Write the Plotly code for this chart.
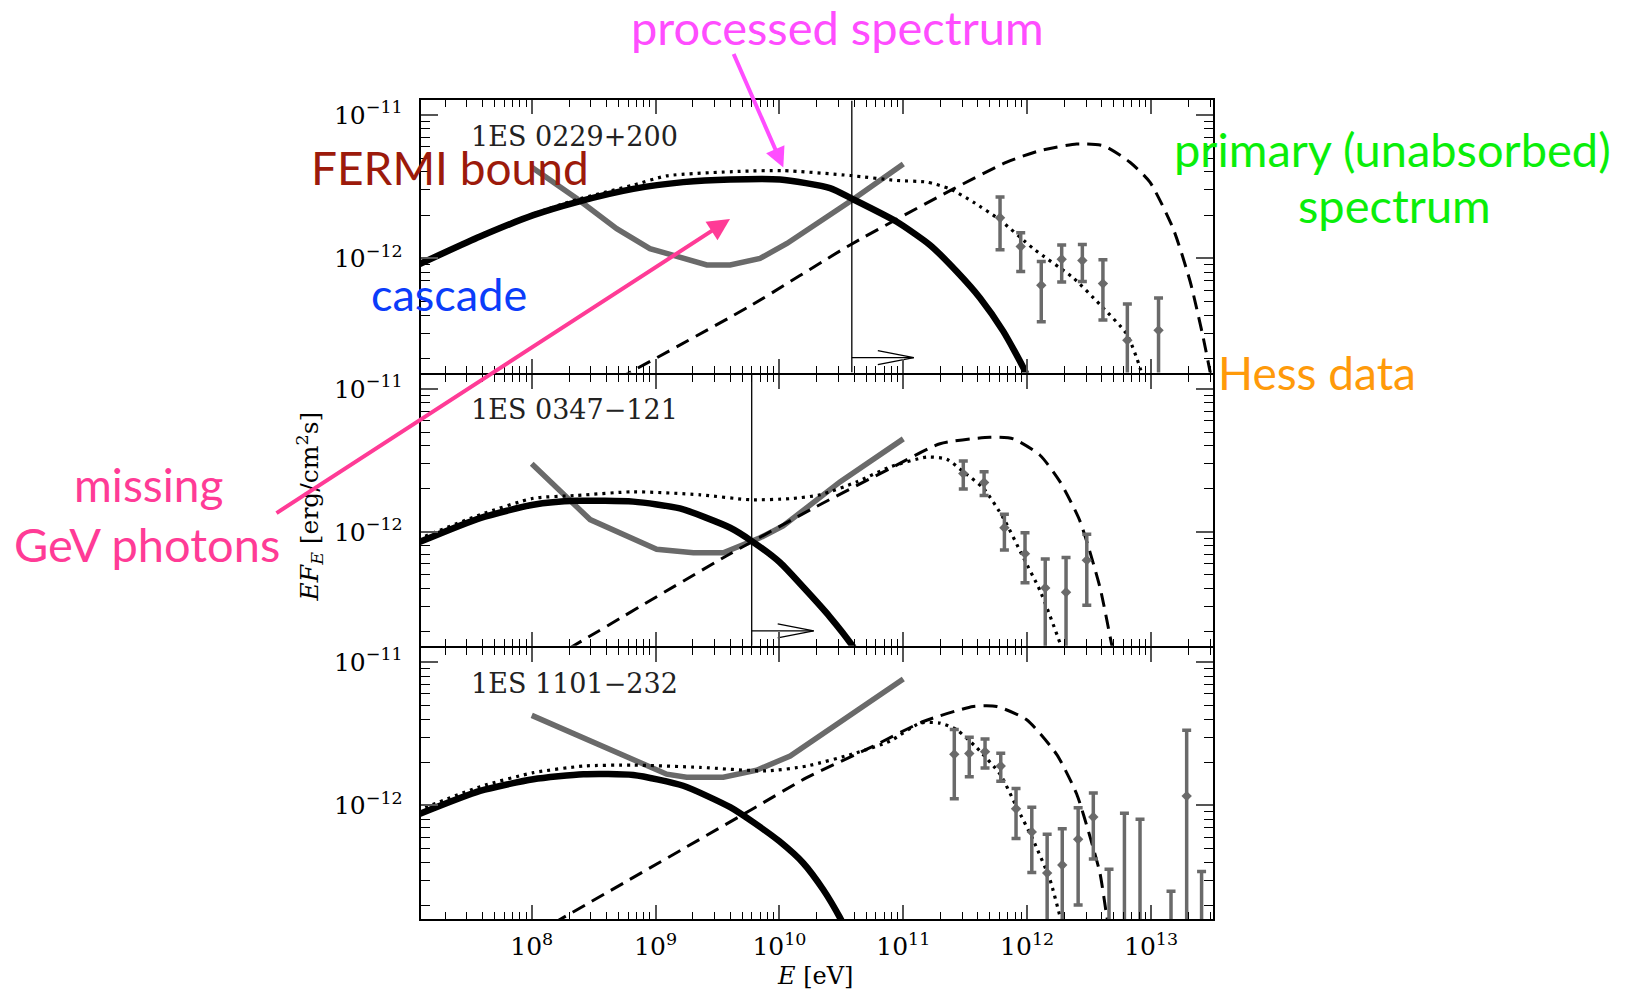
import math
import plotly.graph_objects as go

# ---------------------------------------------------------------------------
# Spectral energy distributions, E*F_E [erg cm^-2 s^-1] versus E [eV]
# ---------------------------------------------------------------------------
source_names = ["1ES 0229+200", "1ES 0347\u2212121", "1ES 1101\u2212232"]

# --- 1ES 0229+200 ---------------------------------------------------------
cascade_E_0229 = [1.2e7, 3.83e7, 1.03e8, 2.31e8, 6.6e8, 1.67e9, 4.0e9, 1.01e10, 2.56e10,
                  3.84e10, 8.85e10, 1.64e11, 2.7e11, 4.16e11, 6.4e11, 9.6e11, 1.1e12]
cascade_F_0229 = [9.0e-13, 1.42e-12, 2.0e-12, 2.47e-12, 3.05e-12, 3.4e-12, 3.55e-12, 3.55e-12, 3.09e-12,
                  2.61e-12, 1.8e-12, 1.24e-12, 8.1e-13, 5.3e-13, 3.11e-13, 1.64e-13, 1.2e-13]
processed_E_0229 = [1.2e7, 3.83e7, 1.03e8, 2.31e8, 6.6e8, 1.23e9, 4.81e9, 1.07e10, 3.72e10, 8.85e10,
                    1.55e11, 2.38e11, 3.67e11, 6.04e11, 1.12e12, 2.36e12, 3.87e12, 6.37e12, 8.15e12, 9.0e12]
processed_F_0229 = [9.1e-13, 1.45e-12, 2.04e-12, 2.57e-12, 3.24e-12, 3.76e-12, 4.04e-12, 4.09e-12, 3.78e-12, 3.49e-12,
                    3.40e-12, 3.05e-12, 2.47e-12, 1.85e-12, 1.17e-12, 7.3e-13, 4.76e-13, 2.96e-13, 1.73e-13, 1.2e-13]
primary_E_0229 = [5.0e8, 5.78e9, 3.72e10, 2.54e11, 6.84e11, 1.27e12, 2.51e12, 4.12e12, 6.76e12,
                  9.8e12, 1.51e13, 2.07e13, 2.64e13, 2.99e13, 3.2e13]
primary_F_0229 = [1.45e-13, 4.65e-13, 1.24e-12, 3.05e-12, 4.68e-12, 5.64e-12, 6.27e-12, 6.1e-12, 4.68e-12,
                  3.4e-12, 1.61e-12, 6.9e-13, 2.8e-13, 1.64e-13, 1.2e-13]
fermi_E_0229 = [1.0e8, 2.31e8, 4.85e8, 9.0e8, 2.59e9, 4.0e9, 6.97e9, 1.15e10, 3.84e10, 1.0e11]
fermi_F_0229 = [4.32e-12, 2.61e-12, 1.61e-12, 1.17e-12, 9.0e-13, 9.0e-13, 1.0e-12, 1.27e-12, 2.54e-12, 4.55e-12]
threshold_0229 = 3.84e10
hess_E_0229 = [6.04e11, 8.87e11, 1.30e12, 1.90e12, 2.79e12, 4.09e12, 6.44e12, 1.15e13]
hess_F_0229 = [1.92e-12, 1.21e-12, 6.49e-13, 9.86e-13, 9.66e-13, 6.67e-13, 2.69e-13, 3.15e-13]
hess_hi_0229 = [2.68e-12, 1.51e-12, 9.5e-13, 1.24e-12, 1.25e-12, 9.77e-13, 4.81e-13, 5.30e-13]
hess_lo_0229 = [1.15e-12, 8.1e-13, 3.61e-13, 6.84e-13, 6.9e-13, 3.72e-13, 0.0, 0.0]
hess_ul_E_0229 = []
hess_ul_0229 = []

# --- 1ES 0347-121 ---------------------------------------------------------
cascade_E_0347 = [1.2e7, 3.83e7, 1.03e8, 2.31e8, 6.6e8, 1.57e9, 4.0e9, 5.97e9, 1.01e10, 1.56e10,
                  2.56e10, 3.84e10, 4.5e10]
cascade_F_0347 = [8.4e-13, 1.25e-12, 1.55e-12, 1.65e-12, 1.63e-12, 1.46e-12, 1.07e-12, 8.63e-13, 6.11e-13, 4.1e-13,
                  2.54e-13, 1.62e-13, 1.3e-13]
processed_E_0347 = [1.2e7, 3.83e7, 1.03e8, 2.31e8, 6.6e8, 2.29e9, 5.78e9, 1.22e10, 2.13e10, 4.21e10,
                    7.82e10, 1.55e11, 2.24e11, 3.05e11, 4.43e11, 6.43e11, 9.31e11, 1.27e12, 1.84e12, 2.0e12]
processed_F_0347 = [8.9e-13, 1.32e-12, 1.72e-12, 1.80e-12, 1.91e-12, 1.82e-12, 1.68e-12, 1.71e-12, 1.82e-12, 2.24e-12,
                    2.85e-12, 3.34e-12, 3.23e-12, 2.64e-12, 2.02e-12, 1.25e-12, 6.62e-13, 3.89e-13, 1.67e-13, 1.3e-13]
primary_E_0347 = [2.0e8, 3.75e9, 2.0e10, 7.82e10, 1.98e11, 5.01e11, 7.73e11, 1.27e12, 1.84e12,
                  2.67e12, 3.87e12, 4.82e12, 5.2e12]
primary_F_0347 = [1.53e-13, 6.81e-13, 1.51e-12, 2.78e-12, 4.14e-12, 4.6e-12, 4.48e-12, 3.44e-12, 2.25e-12,
                  1.19e-12, 4.1e-13, 1.62e-13, 1.2e-13]
fermi_E_0347 = [1.0e8, 2.96e8, 1.02e9, 2.02e9, 3.52e9, 6.97e9, 1.07e10, 3.08e10, 1.0e11]
fermi_F_0347 = [3.0e-12, 1.22e-12, 7.57e-13, 7.16e-13, 7.16e-13, 9.1e-13, 1.10e-12, 2.24e-12, 4.48e-12]
threshold_0347 = 5.97e9
hess_E_0347 = [3.05e11, 4.49e11, 6.55e11, 9.61e11, 1.40e12, 2.06e12, 3.03e12]
hess_F_0347 = [2.56e-12, 2.22e-12, 1.07e-12, 7.05e-13, 4.06e-13, 3.79e-13, 6.35e-13]
hess_hi_0347 = [3.13e-12, 2.64e-12, 1.33e-12, 9.86e-13, 6.46e-13, 6.62e-13, 9.62e-13]
hess_lo_0347 = [2.0e-12, 1.80e-12, 7.48e-13, 4.41e-13, 0.0, 0.0, 3.07e-13]
hess_ul_E_0347 = []
hess_ul_0347 = []

# --- 1ES 1101-232 ---------------------------------------------------------
cascade_E_1101 = [1.2e7, 3.83e7, 1.03e8, 2.61e8, 6.6e8, 1.67e9, 4.0e9, 6.3e9, 1.0e10, 1.56e10,
                  2.26e10, 3.08e10, 3.6e10]
cascade_F_1101 = [8.6e-13, 1.26e-12, 1.52e-12, 1.65e-12, 1.63e-12, 1.37e-12, 9.7e-13, 7.5e-13, 5.6e-13, 3.94e-13,
                  2.57e-13, 1.64e-13, 1.25e-13]
processed_E_1101 = [1.2e7, 3.83e7, 1.03e8, 2.61e8, 6.6e8, 2.29e9, 7.89e9, 1.66e10, 4.21e10, 7.82e10,
                    1.36e11, 1.98e11, 2.70e11, 3.92e11, 6.04e11, 8.24e11, 1.12e12, 1.53e12, 1.84e12, 2.0e12]
processed_F_1101 = [9.2e-13, 1.35e-12, 1.69e-12, 1.88e-12, 1.91e-12, 1.84e-12, 1.74e-12, 1.88e-12, 2.33e-12, 2.81e-12,
                    3.75e-12, 3.75e-12, 3.37e-12, 2.52e-12, 1.65e-12, 9.7e-13, 5.70e-13, 3.01e-13, 1.68e-13, 1.3e-13]
primary_E_1101 = [1.5e8, 5.78e9, 1.66e10, 5.73e10, 1.45e11, 3.67e11, 5.68e11, 9.91e11, 1.73e12,
                  2.51e12, 3.22e12, 3.87e12, 4.39e12, 4.7e12]
primary_F_1101 = [1.5e-13, 9.2e-13, 1.56e-12, 2.59e-12, 3.85e-12, 4.9e-12, 4.9e-12, 3.96e-12, 2.27e-12,
                  1.20e-12, 6.01e-13, 3.36e-13, 1.68e-13, 1.2e-13]
fermi_E_1101 = [1.0e8, 1.23e9, 1.78e9, 3.52e9, 6.56e9, 1.22e10, 1.0e11]
fermi_F_1101 = [4.25e-12, 1.65e-12, 1.57e-12, 1.57e-12, 1.76e-12, 2.21e-12, 7.62e-12]
threshold_1101 = None
hess_E_1101 = [2.58e11, 3.41e11, 4.57e11, 6.12e11, 8.13e11, 1.09e12, 1.45e12, 1.92e12, 2.58e12, 3.42e12, 1.94e13]
hess_F_1101 = [2.27e-12, 2.30e-12, 2.37e-12, 1.88e-12, 9.46e-13, 6.52e-13, 3.36e-13, 3.83e-13, 5.79e-13, 8.28e-13, 1.16e-12]
hess_hi_1101 = [3.38e-12, 2.99e-12, 2.91e-12, 2.31e-12, 1.31e-12, 9.70e-13, 6.28e-13, 6.87e-13, 9.62e-13, 1.22e-12, 3.35e-12]
hess_lo_1101 = [1.11e-12, 1.58e-12, 1.82e-12, 1.47e-12, 5.86e-13, 3.39e-13, 0.0, 0.0, 2.01e-13, 4.22e-13, 0.0]
hess_ul_E_1101 = [4.58e12, 6.10e12, 8.15e12, 1.45e13, 2.56e13]
hess_ul_1101 = [3.58e-13, 8.81e-13, 7.98e-13, 2.51e-13, 3.44e-13]

# Axis ticks
x_tick_vals = [1e8, 1e9, 1e10, 1e11, 1e12, 1e13]
x_tick_text = ["10<sup>8</sup>", "10<sup>9</sup>", "10<sup>10</sup>", "10<sup>11</sup>",
               "10<sup>12</sup>", "10<sup>13</sup>"]
y_tick_vals = [1e-12, 1e-11]
y_tick_text = ["10<sup>\u221212</sup>", "10<sup>\u221211</sup>"]

panels = [
    dict(cascade=(cascade_E_0229, cascade_F_0229), processed=(processed_E_0229, processed_F_0229),
         primary=(primary_E_0229, primary_F_0229), fermi=(fermi_E_0229, fermi_F_0229),
         threshold=threshold_0229, hess=(hess_E_0229, hess_F_0229, hess_hi_0229, hess_lo_0229),
         ul=(hess_ul_E_0229, hess_ul_0229)),
    dict(cascade=(cascade_E_0347, cascade_F_0347), processed=(processed_E_0347, processed_F_0347),
         primary=(primary_E_0347, primary_F_0347), fermi=(fermi_E_0347, fermi_F_0347),
         threshold=threshold_0347, hess=(hess_E_0347, hess_F_0347, hess_hi_0347, hess_lo_0347),
         ul=(hess_ul_E_0347, hess_ul_0347)),
    dict(cascade=(cascade_E_1101, cascade_F_1101), processed=(processed_E_1101, processed_F_1101),
         primary=(primary_E_1101, primary_F_1101), fermi=(fermi_E_1101, fermi_F_1101),
         threshold=threshold_1101, hess=(hess_E_1101, hess_F_1101, hess_hi_1101, hess_lo_1101),
         ul=(hess_ul_E_1101, hess_ul_1101)),
]

# ---------------------------------------------------------------------------
# Page geometry (pixels)
# ---------------------------------------------------------------------------
W, H = 1625, 990
X_LEFT, X_RIGHT = 420.7, 1212.7
PANEL_EDGES = [97.7, 371.7, 645.7, 919.0]
LINE_W = 2
X_RANGE = [7.1035, 13.498]       # log10(E / eV)
Y_RANGE = [-12.796, -10.899]     # log10(E F_E)
PX_PER_DEX_X = (X_RIGHT - X_LEFT) / (X_RANGE[1] - X_RANGE[0])
PX_PER_DEX_Y = (PANEL_EDGES[1] - PANEL_EDGES[0]) / (Y_RANGE[1] - Y_RANGE[0])


def paper(px, py):
    return px / W, 1 - py / H


minor_x = [k * 10 ** d for d in range(7, 14) for k in range(2, 10)
           if X_RANGE[0] <= math.log10(k * 10 ** d) <= X_RANGE[1]]
minor_y = [k * 10.0 ** d for d in (-13, -12, -11) for k in range(2, 10)
           if Y_RANGE[0] <= math.log10(k * 10.0 ** d) <= Y_RANGE[1]]

GREY = "#6a6a6a"
AX_FONT = dict(family="DejaVu Serif", size=25, color="black")

fig = go.Figure()

for i, p in enumerate(panels):
    sfx = "" if i == 0 else str(i + 1)
    xa, ya = "x" + sfx, "y" + sfx

    # Fermi upper bound
    fig.add_trace(go.Scatter(x=p["fermi"][0], y=p["fermi"][1], mode="lines",
                             line=dict(color=GREY, width=5.5), xaxis=xa, yaxis=ya))
    # Primary (unabsorbed) spectrum
    fig.add_trace(go.Scatter(x=p["primary"][0], y=p["primary"][1], mode="lines",
                             line=dict(color="black", width=3, dash="14px,8px", shape="spline", smoothing=0.6),
                             xaxis=xa, yaxis=ya))
    # Processed spectrum
    fig.add_trace(go.Scatter(x=p["processed"][0], y=p["processed"][1], mode="lines",
                             line=dict(color="black", width=3.2, dash="3px,5px", shape="spline", smoothing=0.6),
                             xaxis=xa, yaxis=ya))
    # Cascade emission
    fig.add_trace(go.Scatter(x=p["cascade"][0], y=p["cascade"][1], mode="lines",
                             line=dict(color="black", width=6.5, shape="spline", smoothing=0.6),
                             xaxis=xa, yaxis=ya))

    # Threshold energy: vertical line with a rightward arrow near the bottom
    E0 = p["threshold"]
    if E0 is not None:
        fig.add_trace(go.Scatter(x=[E0, E0], y=[10 ** Y_RANGE[0], 10 ** Y_RANGE[1]], mode="lines",
                                 line=dict(color="black", width=1.3), xaxis=xa, yaxis=ya))
        y_arrow = 10 ** (Y_RANGE[0] + 15 / PX_PER_DEX_Y)
        shaft = 62 / PX_PER_DEX_X
        head = 36 / PX_PER_DEX_X
        half = 7 / PX_PER_DEX_Y
        tip = E0 * 10 ** shaft
        base = E0 * 10 ** (shaft - head)
        fig.add_trace(go.Scatter(x=[E0, tip, None, base, tip, base],
                                 y=[y_arrow, y_arrow, None, y_arrow * 10 ** half, y_arrow, y_arrow / 10 ** half],
                                 mode="lines", line=dict(color="black", width=1.3), xaxis=xa, yaxis=ya))

    # HESS measurements
    hE, hF, hHi, hLo = p["hess"]
    fig.add_trace(go.Scatter(
        x=hE, y=hF, mode="markers",
        marker=dict(symbol="diamond", size=8, color=GREY),
        error_y=dict(type="data", symmetric=False,
                     array=[hi - f for hi, f in zip(hHi, hF)],
                     arrayminus=[f - lo for f, lo in zip(hF, hLo)],
                     color=GREY, thickness=3.5, width=4.5),
        xaxis=xa, yaxis=ya))
    ulE, ulF = p["ul"]
    if ulE:
        fig.add_trace(go.Scatter(
            x=ulE, y=ulF, mode="markers", marker=dict(size=1, color="rgba(0,0,0,0)"),
            error_y=dict(type="data", symmetric=False, array=[0] * len(ulF), arrayminus=ulF,
                         color=GREY, thickness=3.5, width=4.5),
            xaxis=xa, yaxis=ya))

    # Domains: neighbouring frames share one border line of LINE_W pixels
    top_px = PANEL_EDGES[i] + (LINE_W / 2 if i > 0 else 0)
    bot_px = PANEL_EDGES[i + 1] - (LINE_W / 2 if i < 2 else 0)
    y0 = 1 - bot_px / H
    y1 = 1 - top_px / H
    common = dict(type="log", showline=True, linewidth=LINE_W, linecolor="black", mirror="allticks",
                  ticks="inside", showgrid=False, zeroline=False, tickmode="array",
                  tickfont=AX_FONT, tickcolor="#555555", tickwidth=1.6)
    fig.update_layout(**{
        "xaxis" + sfx: dict(common, domain=[X_LEFT / W, X_RIGHT / W], range=X_RANGE, anchor=ya,
                            tickvals=x_tick_vals, ticktext=x_tick_text, ticklen=14,
                            showticklabels=(i == 2), ticklabelstandoff=4,
                            minor=dict(tickmode="array", tickvals=minor_x, ticks="inside", ticklen=7,
                                       tickcolor="black", tickwidth=1.2)),
        "yaxis" + sfx: dict(common, domain=[y0, y1], range=Y_RANGE, anchor=xa,
                            tickvals=y_tick_vals, ticktext=y_tick_text, ticklen=17,
                            ticklabelstandoff=11,
                            minor=dict(tickmode="array", tickvals=minor_y, ticks="inside", ticklen=9,
                                       tickcolor="black", tickwidth=1.2)),
    })

annotations = []

# Source names inside each panel
for i, name in enumerate(source_names):
    ax_, ay_ = paper(469, PANEL_EDGES[i] + 36.5)
    annotations.append(dict(text=name, x=ax_, y=ay_, xref="paper", yref="paper", xanchor="left",
                            yanchor="middle", showarrow=False,
                            font=dict(family="DejaVu Serif", size=27, color="#222222")))

# Axis titles
tx, ty = paper(310, 505)
annotations.append(dict(text="<i>EF<sub>E</sub></i> [erg/cm<sup>2</sup>s]", x=tx, y=ty, xref="paper",
                        yref="paper", textangle=-90, showarrow=False, xanchor="center", yanchor="middle",
                        font=dict(family="DejaVu Serif", size=25, color="black")))
tx, ty = paper(815, 976)
annotations.append(dict(text="<i>E</i> [eV]", x=tx, y=ty, xref="paper", yref="paper", showarrow=False,
                        xanchor="center", yanchor="middle",
                        font=dict(family="DejaVu Serif", size=24, color="black")))

# Presentation labels (one annotation per text line)
LABEL_FONT = "Lato"
labels = [
    ("processed spectrum", 837.5, 24, "center", "#ff4dff", 47),
    ("FERMI bound", 309, 165, "left", "#9c1a0b", 46),
    ("cascade", 369, 292, "left", "#0b3cfa", 45),
    ("missing", 148, 483, "center", "#ff3b96", 46),
    ("GeV photons", 147, 543, "center", "#ff3b96", 47),
    ("primary (unabsorbed)", 1392, 146, "center", "#0aee0a", 47),
    ("spectrum", 1394, 203, "center", "#0aee0a", 47),
    ("Hess data", 1216, 371, "left", "#ff9a0a", 46),
]
for text, lx, ly, anchor, color, size in labels:
    ax_, ay_ = paper(lx, ly)
    annotations.append(dict(text=text, x=ax_, y=ay_, xref="paper", yref="paper", showarrow=False,
                            xanchor=anchor, yanchor="middle", align="center",
                            font=dict(family=LABEL_FONT, size=size, color=color)))

# Pointer arrows
tip_x, tip_y = paper(783.3, 165)
annotations.append(dict(text="", x=tip_x, y=tip_y, xref="paper", yref="paper", showarrow=True,
                        ax=733 - 783.3, ay=50 - 165, arrowhead=2, arrowsize=1.0, arrowwidth=4,
                        arrowcolor="#ff4dff"))
tip_x, tip_y = paper(730, 216.7)
annotations.append(dict(text="", x=tip_x, y=tip_y, xref="paper", yref="paper", showarrow=True,
                        ax=275 - 730, ay=511.7 - 216.7, arrowhead=2, arrowsize=1.1, arrowwidth=4,
                        arrowcolor="#ff3b96"))

fig.update_layout(width=W, height=H, margin=dict(l=0, r=0, t=0, b=0),
                  paper_bgcolor="white", plot_bgcolor="white", showlegend=False,
                  annotations=annotations)

fig.write_html("out.html")
